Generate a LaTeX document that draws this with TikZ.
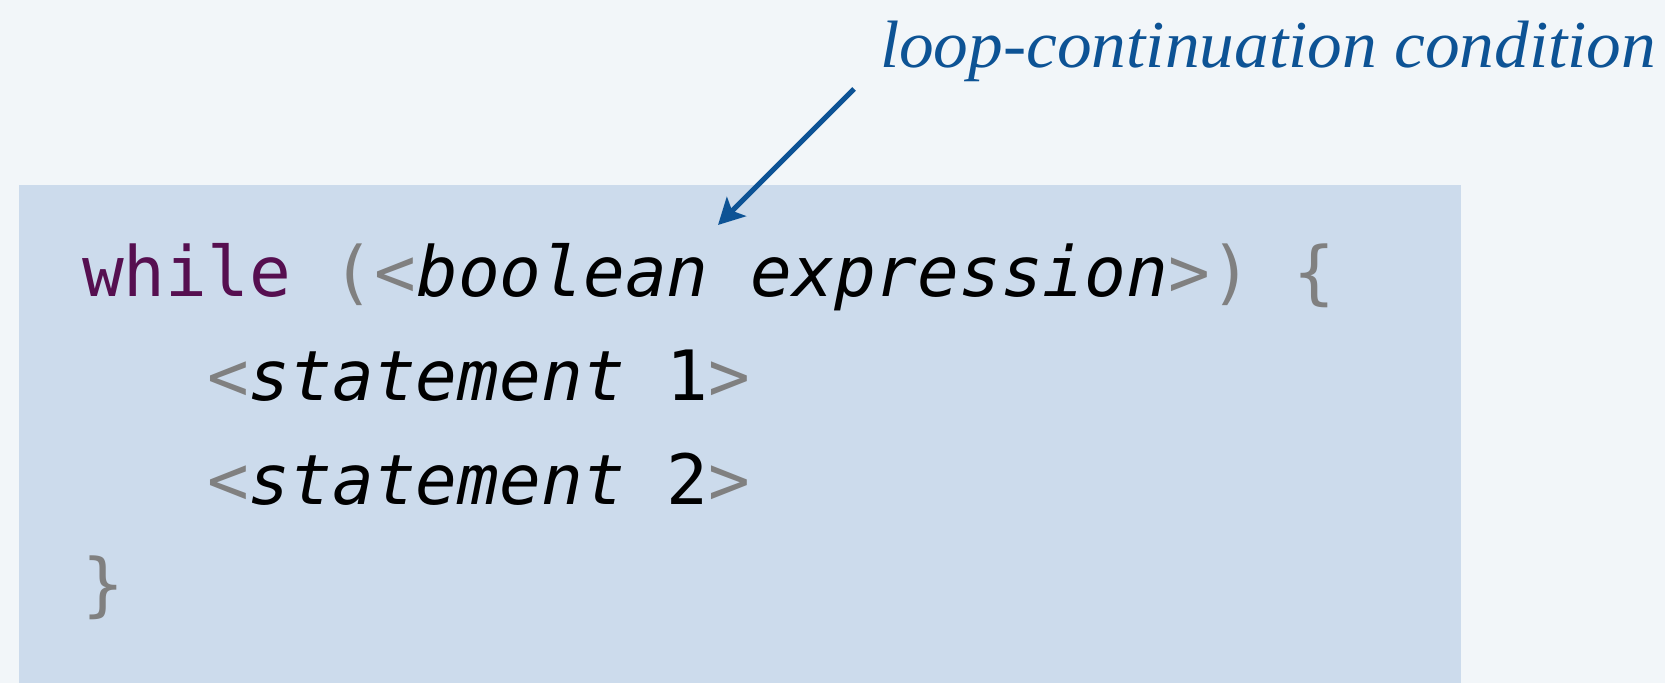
\documentclass[tikz,border=0pt]{standalone}
\usepackage{fontspec}
\setmainfont{Liberation Serif}
\newfontfamily\codefont{DejaVu Sans Mono}
\usetikzlibrary{arrows.meta}
\definecolor{bgcol}{HTML}{F2F6F9}
\definecolor{boxcol}{HTML}{CCDBEC}
\definecolor{kwcol}{HTML}{560F50}
\definecolor{grycol}{HTML}{808080}
\definecolor{annot}{HTML}{0D5395}
\newcommand{\gr}[1]{\textcolor{grycol}{#1}}
\newcommand{\kw}[1]{\textcolor{kwcol}{#1}}
\begin{document}
\begin{tikzpicture}[x=0.5pt,y=-0.5pt,
  codeline/.style={anchor=base west,inner sep=0pt,outer sep=0pt,
    font=\codefont\fontsize{34.7pt}{40pt}\selectfont,text=black},
  annotlabel/.style={anchor=base west,inner sep=0pt,outer sep=0pt,
    font=\itshape\fontsize{33.5pt}{38pt}\selectfont,text=annot},
  pointer/.style={draw=annot,line width=2.6pt,-{Stealth[length=13pt,width=13.5pt,inset=3pt]}}]
  \useasboundingbox (0,0) rectangle (1665,683);
  \fill[bgcol] (0,0) rectangle (1665,683);
  \fill[boxcol] (19,185) rectangle (1461,683);
  \node[annotlabel] (label) at (880,68) {\scalebox{1.035}[1]{loop-continuation condition}};
  \node[codeline] (l1) at (82,297) {\kw{while} \gr{(<}\textit{boolean expression}\gr{>)} \gr{\{}};
  \node[codeline] (l2) at (207,401) {\gr{<}\textit{statement} 1\gr{>}};
  \node[codeline] (l3) at (207,505) {\gr{<}\textit{statement} 2\gr{>}};
  \node[codeline] (l4) at (82,609) {\gr{\}}};
  \coordinate (pstart) at (854,89);
  \coordinate (pend) at (718,225);
  \draw[pointer] (pstart) -- (pend);
\end{tikzpicture}
\end{document}
